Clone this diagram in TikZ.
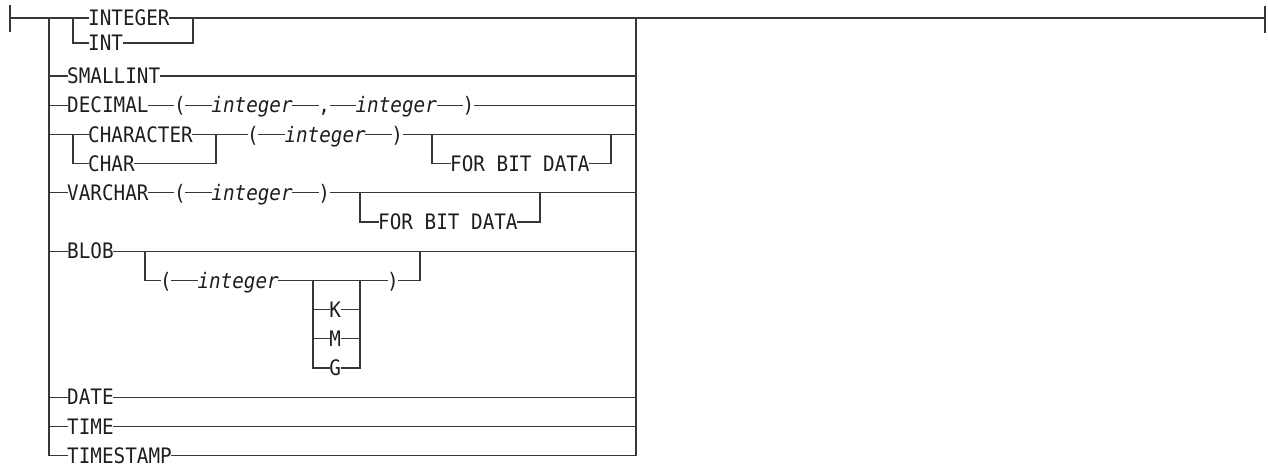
\documentclass[tikz,border=0pt]{standalone}
\usepackage{fontspec}
\setmonofont[FakeStretch=0.906]{DejaVu Sans Mono}
\definecolor{linec}{RGB}{55,55,55}
\definecolor{txtc}{RGB}{30,30,30}
\tikzset{
  kw/.style={font=\ttfamily\fontsize{21.3pt}{22pt}\selectfont, inner sep=0pt,
             text height=15.5pt, text depth=0pt, anchor=west, text=txtc},
  var/.style={kw, font=\ttfamily\itshape\fontsize{21.3pt}{22pt}\selectfont},
  rail/.style={draw=linec, line width=1.1pt, line cap=rect},
}
\begin{document}
\begin{tikzpicture}[x=1pt,y=-1pt]
\useasboundingbox (0,0) rectangle (1268,465);
% ends of the main line
\coordinate (s) at (10,18);
\coordinate (e) at (1265,18);
\coordinate (L) at (49,18);
\coordinate (Lb) at (49,455.6);
\coordinate (R) at (636,18);
\coordinate (Rb) at (636,455.6);
\draw[rail] (s) ++(0,-12) -- ++(0,25);
\draw[rail] (e) ++(0,-11) -- ++(0,25);
\draw[rail] (L) -- (Lb);
\draw[rail] (R) -- (Rb);

% INTEGER / INT
\node[kw] (integer) at (88,18) {INTEGER};
\node[kw] (int) at (88,43) {INT};
\coordinate (ia) at (73,18);
\coordinate (ib) at (193,18);
\draw[rail] (s) -- (integer);
\draw[rail] (integer) -- (e);
\draw[rail] (ia) |- (int.west);
\draw[rail] (int.east) -| (ib);

% SMALLINT
\node[kw] (smallint) at (67,76) {SMALLINT};
\draw[rail] (L |- smallint.west) -- (smallint);
\draw[rail] (smallint) -- (R |- smallint.east);

% DECIMAL
\node[kw] (decimal) at (67,105.2) {DECIMAL};
\node[kw] (lpa) at (173.9,105.2) {(};
\node[var] (inta) at (211.2,105.2) {integer};
\node[kw] (comma) at (318.1,105.2) {,};
\node[var] (intb) at (355.4,105.2) {integer};
\node[kw] (rpa) at (462.3,105.2) {)};
\draw[rail] (L |- decimal.west) -- (decimal);
\draw[rail] (decimal) -- (lpa);
\draw[rail] (lpa) -- (inta);
\draw[rail] (inta) -- (comma);
\draw[rail] (comma) -- (intb);
\draw[rail] (intb) -- (rpa);
\draw[rail] (rpa) -- (R |- rpa.east);

% CHARACTER / CHAR
\node[kw] (character) at (88,134.4) {CHARACTER};
\node[kw] (char) at (88,163.6) {CHAR};
\coordinate (ca) at (73,134.4);
\coordinate (cb) at (216,134.4);
\node[kw] (lpb) at (247,134.4) {(};
\node[var] (intc) at (284.3,134.4) {integer};
\node[kw] (rpb) at (391.2,134.4) {)};
\draw[rail] (L |- character.west) -- (character);
\draw[rail] (character) -- (cb);
\draw[rail] (ca) |- (char.west);
\draw[rail] (char.east) -| (cb);
\draw[rail] (cb) -- (lpb);
\draw[rail] (lpb) -- (intc);
\draw[rail] (intc) -- (rpb);
\draw[rail] (rpb) -- (R |- rpb.east);
\coordinate (fa) at (432,134.4);
\coordinate (fb) at (611,134.4);
\node[kw] (fbda) at (450,163.6) {FOR BIT DATA};
\draw[rail] (fa) |- (fbda.west);
\draw[rail] (fbda.east) -| (fb);

% VARCHAR
\node[kw] (varchar) at (67,192.8) {VARCHAR};
\node[kw] (lpc) at (173.9,192.8) {(};
\node[var] (intd) at (211.2,192.8) {integer};
\node[kw] (rpc) at (318.1,192.8) {)};
\draw[rail] (L |- varchar.west) -- (varchar);
\draw[rail] (varchar) -- (lpc);
\draw[rail] (lpc) -- (intd);
\draw[rail] (intd) -- (rpc);
\draw[rail] (rpc) -- (R |- rpc.east);
\coordinate (va) at (360,192.8);
\coordinate (vb) at (540,192.8);
\node[kw] (fbdb) at (378,222) {FOR BIT DATA};
\draw[rail] (va) |- (fbdb.west);
\draw[rail] (fbdb.east) -| (vb);

% BLOB
\node[kw] (blob) at (67,251.2) {BLOB};
\draw[rail] (L |- blob.west) -- (blob);
\draw[rail] (blob) -- (R |- blob.east);
\coordinate (ba) at (145,251.2);
\coordinate (bb) at (420,251.2);
\node[kw] (lpd) at (160,280.4) {(};
\node[var] (inte) at (197.3,280.4) {integer};
\node[kw] (rpd) at (387,280.4) {)};
\draw[rail] (ba) |- (lpd.west);
\draw[rail] (lpd) -- (inte);
\draw[rail] (inte) -- (rpd);
\draw[rail] (rpd.east) -| (bb);
\coordinate (ka) at (313,280.4);
\coordinate (kb) at (360,280.4);
\node[kw] (k) at (329.2,309.6) {K};
\node[kw] (m) at (329.2,338.8) {M};
\node[kw] (g) at (329.2,368) {G};
\draw[rail] (ka) |- (g.west);
\draw[rail] (g.east) -| (kb);
\draw[rail] (ka |- k.west) -- (k);
\draw[rail] (k) -- (kb |- k.east);
\draw[rail] (ka |- m.west) -- (m);
\draw[rail] (m) -- (kb |- m.east);

% DATE / TIME / TIMESTAMP
\node[kw] (date) at (67,397.2) {DATE};
\node[kw] (time) at (67,426.4) {TIME};
\node[kw] (timestamp) at (67,455.6) {TIMESTAMP};
\draw[rail] (L |- date.west) -- (date);
\draw[rail] (date) -- (R |- date.east);
\draw[rail] (L |- time.west) -- (time);
\draw[rail] (time) -- (R |- time.east);
\draw[rail] (Lb) -- (timestamp);
\draw[rail] (timestamp) -- (Rb);
\end{tikzpicture}
\end{document}
